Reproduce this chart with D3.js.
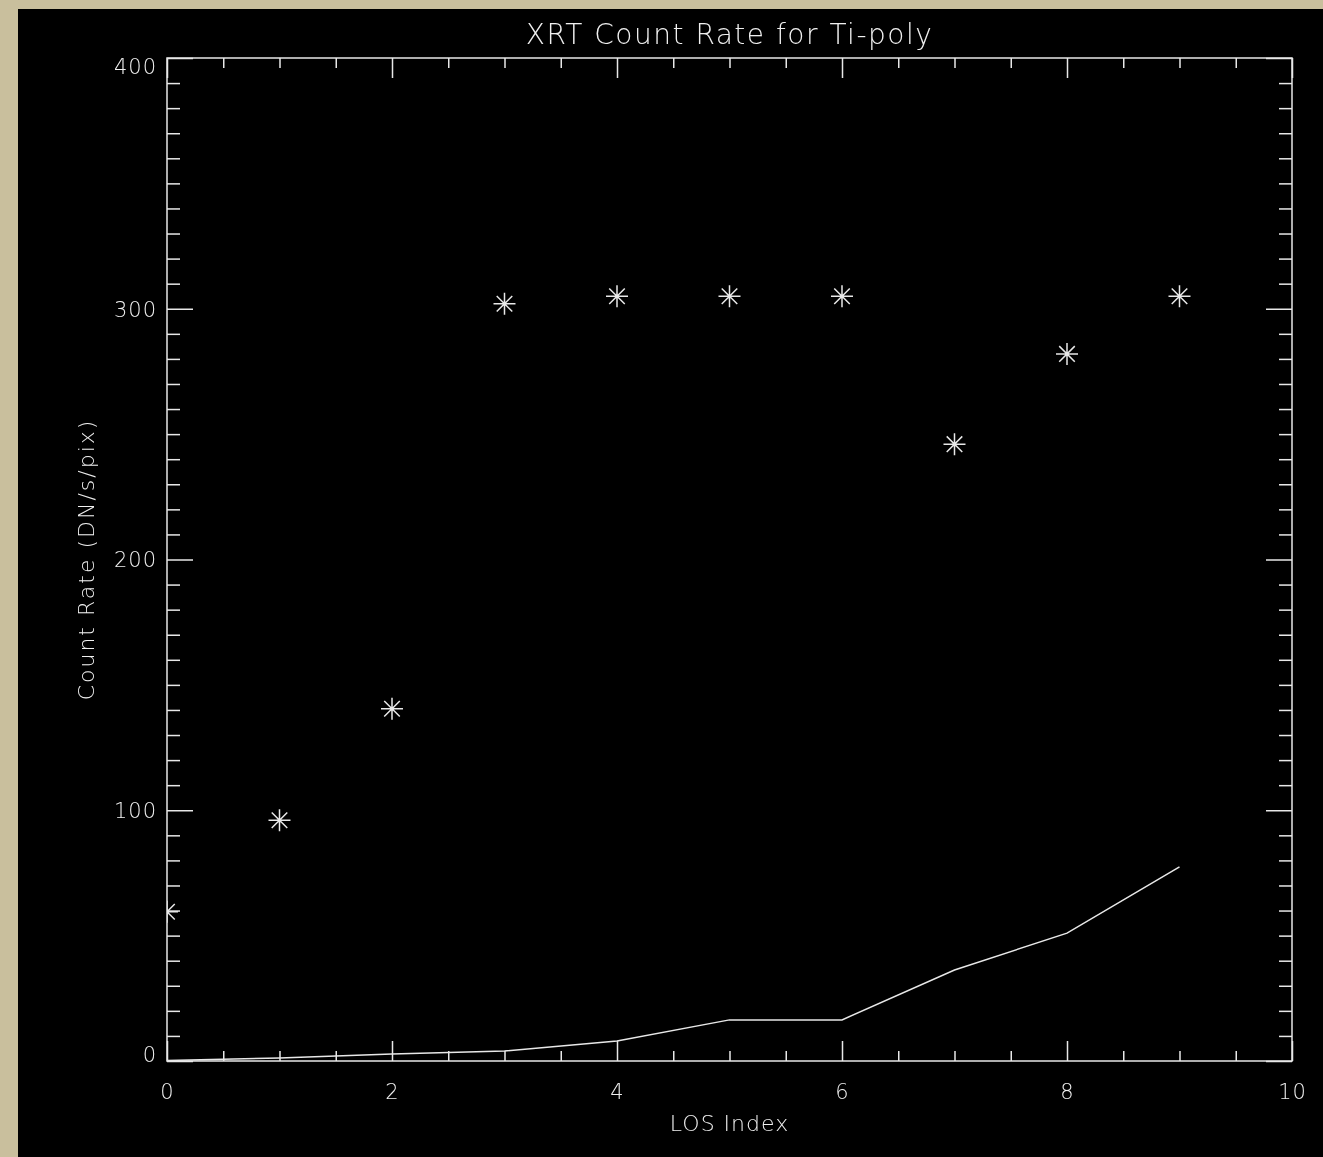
<!DOCTYPE html>
<html>
<head>
<meta charset="utf-8">
<script src="https://cdn.jsdelivr.net/npm/d3@7"></script>
<style>
  html, body { margin: 0; padding: 0; background: #c9bf9d; }
  svg { display: block; will-change: transform; }
  text { font-family: "DejaVu Sans", sans-serif; font-weight: 200; fill: #f0f0f0; }
</style>
</head>
<body>
<script>
// values
const losIndex = [0, 1, 2, 3, 4, 5, 6, 7, 8, 9];
const observed = [59.5, 96, 140.5, 302, 305, 305, 305, 246, 282, 305];
const modelled = [0.2, 1.2, 2.8, 4.0, 8.0, 16.4, 16.4, 36.3, 51, 77.4];

const xMajor = [0, 2, 4, 6, 8, 10];
const yMajor = [0, 100, 200, 300, 400];

const titleText = "XRT Count Rate for Ti-poly";
const xTitle = "LOS Index";
const yTitle = "Count Rate (DN/s/pix)";

const W = 1323, H = 1157;
const margin = { left: 167, top: 58, right: W - 1292, bottom: H - 1061 };
const fg = "#e8e8e8";
const txt = "#f0f0f0";

const svg = d3.select("body").append("svg")
    .attr("width", W)
    .attr("height", H);

// tan frame with black panel
svg.append("rect").attr("width", W).attr("height", H).attr("fill", "#c9bf9d");
svg.append("rect")
    .attr("x", 18).attr("y", 9)
    .attr("width", W - 18).attr("height", H - 9)
    .attr("fill", "#000");

const x = d3.scaleLinear().domain([0, 10]).range([margin.left, W - margin.right]);
const y = d3.scaleLinear().domain([0, 400]).range([H - margin.bottom, margin.top]);

const xMinor = d3.range(0, 10.001, 0.5).filter(v => v % 2 !== 0);
const yMinor = d3.range(0, 400.001, 10).filter(v => v % 100 !== 0);

function styleAxis(g) {
    g.select(".domain").remove();
    g.selectAll("line").attr("stroke", fg).attr("stroke-width", 1.5);
    g.selectAll("text").attr("fill", txt).attr("font-size", 21).attr("letter-spacing", 1)
        .attr("font-family", "DejaVu Sans, sans-serif").attr("font-weight", 200);
}

// bottom axis: ticks point up into the plot
const axBottom = svg.append("g").attr("transform", `translate(0,${y(0)})`);
axBottom.append("g").call(d3.axisBottom(x).tickValues(xMajor).tickSize(-20).tickPadding(23).tickFormat(d3.format("d")))
    .call(styleAxis);
axBottom.append("g").call(d3.axisBottom(x).tickValues(xMinor).tickSize(-10).tickFormat(""))
    .call(styleAxis);

// top axis, no labels
const axTop = svg.append("g").attr("transform", `translate(0,${y(400)})`);
axTop.append("g").call(d3.axisTop(x).tickValues(xMajor).tickSize(-20).tickFormat("")).call(styleAxis);
axTop.append("g").call(d3.axisTop(x).tickValues(xMinor).tickSize(-10).tickFormat("")).call(styleAxis);

// left axis
const axLeft = svg.append("g").attr("transform", `translate(${x(0)},0)`);
axLeft.append("g").call(d3.axisLeft(y).tickValues(yMajor).tickSize(-26).tickPadding(10).tickFormat(d3.format("d")))
    .call(styleAxis);
axLeft.selectAll(".tick text")
    .attr("dy", d => d === 400 ? "0.75em" : d === 0 ? "0.0em" : "0.35em");
axLeft.append("g").call(d3.axisLeft(y).tickValues(yMinor).tickSize(-13).tickFormat("")).call(styleAxis);

// right axis
const axRight = svg.append("g").attr("transform", `translate(${x(10)},0)`);
axRight.append("g").call(d3.axisRight(y).tickValues(yMajor).tickSize(-26).tickFormat("")).call(styleAxis);
axRight.append("g").call(d3.axisRight(y).tickValues(yMinor).tickSize(-13).tickFormat("")).call(styleAxis);

// plot box
svg.append("rect")
    .attr("x", x(0)).attr("y", y(400))
    .attr("width", x(10) - x(0)).attr("height", y(0) - y(400))
    .attr("fill", "none").attr("stroke", fg).attr("stroke-width", 1.5);

svg.append("clipPath").attr("id", "plotclip")
    .append("rect")
    .attr("x", x(0)).attr("y", y(400))
    .attr("width", x(10) - x(0)).attr("height", y(0) - y(400));

const plot = svg.append("g").attr("clip-path", "url(#plotclip)");

// modelled curve
plot.append("path")
    .datum(losIndex.map((d, i) => [d, modelled[i]]))
    .attr("d", d3.line().x(d => x(d[0])).y(d => y(d[1])))
    .attr("fill", "none")
    .attr("stroke", fg)
    .attr("stroke-width", 1.5);

// observed points as asterisks
const r = 11, rd = 11 * Math.SQRT1_2;
const star = `M${-r},0L${r},0M0,${-r}L0,${r}M${-rd},${-rd}L${rd},${rd}M${-rd},${rd}L${rd},${-rd}`;
plot.selectAll("path.star")
    .data(losIndex.map((d, i) => [d, observed[i]]))
    .join("path")
    .attr("class", "star")
    .attr("transform", d => `translate(${x(d[0])},${y(d[1])})`)
    .attr("d", star)
    .attr("fill", "none")
    .attr("stroke", fg)
    .attr("stroke-width", 1.5);

// titles
svg.append("text")
    .attr("x", (x(0) + x(10)) / 2).attr("y", 44)
    .attr("text-anchor", "middle")
    .attr("font-size", 28).attr("letter-spacing", 1.5)
    .text(titleText);

svg.append("text")
    .attr("x", (x(0) + x(10)) / 2).attr("y", 1131)
    .attr("text-anchor", "middle")
    .attr("font-size", 22).attr("letter-spacing", 1)
    .text(xTitle);

svg.append("text")
    .attr("transform", `translate(94,${(y(0) + y(400)) / 2}) rotate(-90)`)
    .attr("text-anchor", "middle")
    .attr("font-size", 22).attr("letter-spacing", 2)
    .text(yTitle);
</script>
</body>
</html>
